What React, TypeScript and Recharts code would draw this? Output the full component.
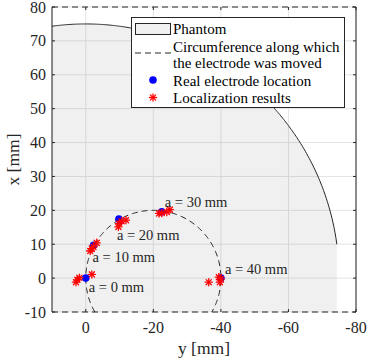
import React from 'react';
import {
  ComposedChart,
  Area,
  Scatter,
  XAxis,
  YAxis,
  CartesianGrid,
  ReferenceLine,
  Legend,
} from 'recharts';

// ---------- data ----------
const xTicks = [0, -20, -40, -60, -80];
const yTicks = [-10, 0, 10, 20, 30, 40, 50, 60, 70, 80];

const phantomRadius = 75;
const pathCenterH = -20;
const pathRadius = 20;

const electrodeLabels = ['a = 0 mm', 'a = 10 mm', 'a = 20 mm', 'a = 30 mm', 'a = 40 mm'];
const electrodeH = [0, -2.3, -9.8, -22.5, -40]; // horizontal axis: y [mm]
const electrodeV = [0, 9.7, 17.4, 19.6, 0]; // vertical axis: x [mm]

const resultH = [
  2.5, 1.9, 2.9, -1.8,
  -3.25, -2.25, -1.3, -1.8,
  -11.9, -9.85, -9.65, -10.6,
  -22.5, -24.0, -24.9, -21.7,
  -36.4, -39.7, -40.0, -39.4,
];
const resultV = [
  -0.5, 0.1, -1.2, 1.1,
  10.4, 9.2, 8.0, 8.7,
  17.1, 16.1, 15.1, 16.8,
  19.2, 19.5, 20.2, 19.1,
  -1.2, -1.2, -0.2, 0.3,
];

// ---------- layout / style ----------
const W = 367;
const H = 361;
const PLOT_LEFT = 52;
const PLOT_RIGHT = 356;
const PLOT_TOP = 7;
const PLOT_BOTTOM = 312;
const FONT = '"Liberation Serif", "Times New Roman", serif';
const INK = '#262626';
const labelOffsets = [
  [3, 14],
  [-1, 17],
  [-2, 21],
  [3, -5],
  [4, -4],
];

// ---------- derived tables ----------
const Y_MIN = yTicks[0];
const phantomData: { h: number; v: number }[] = [];
{
  const hEnd = -Math.sqrt(phantomRadius * phantomRadius - Y_MIN * Y_MIN);
  const steps = 300;
  const hStart = 10;
  for (let i = 0; i <= steps; i++) {
    const h = hStart + ((hEnd - hStart) * i) / steps;
    const v = Math.sqrt(Math.max(0, phantomRadius * phantomRadius - h * h));
    phantomData.push({ h, v });
  }
}

const pathData: { h: number; v: number }[] = [];
{
  const a0 = Math.asin(Y_MIN / pathRadius); // -30deg
  const a1 = Math.PI - a0;
  const steps = 240;
  for (let i = 0; i <= steps; i++) {
    const t = a0 + ((a1 - a0) * i) / steps;
    pathData.push({ h: pathCenterH + pathRadius * Math.cos(t), v: pathRadius * Math.sin(t) });
  }
}

const electrodeData = electrodeH.map((h, i) => ({ h, v: electrodeV[i], label: electrodeLabels[i], i }));
const resultData = resultH.map((h, i) => ({ h, v: resultV[i] }));

// ---------- shapes ----------
const Star = ({ cx, cy, s = 3.6 }: { cx: number; cy: number; s?: number }) => {
  const d = s * 0.72;
  return (
    <g stroke="#ff0000" strokeWidth={1.3} strokeLinecap="round">
      <line x1={cx - s} y1={cy} x2={cx + s} y2={cy} />
      <line x1={cx} y1={cy - s} x2={cx} y2={cy + s} />
      <line x1={cx - d} y1={cy - d} x2={cx + d} y2={cy + d} />
      <line x1={cx - d} y1={cy + d} x2={cx + d} y2={cy - d} />
    </g>
  );
};

const XTick = (props: any) => {
  const { x, payload } = props;
  return (
    <g>
      <line x1={x} x2={x} y1={PLOT_BOTTOM} y2={PLOT_BOTTOM - 3} stroke={INK} />
      <line x1={x} x2={x} y1={PLOT_TOP} y2={PLOT_TOP + 3} stroke={INK} />
      <text x={x} y={PLOT_BOTTOM + 21} textAnchor="middle" fontSize={16} fill={INK} style={{ fontFamily: FONT }}>
        {String(payload.value)}
      </text>
    </g>
  );
};

const YTick = (props: any) => {
  const { y, payload } = props;
  return (
    <g>
      <line x1={PLOT_LEFT} x2={PLOT_LEFT + 3} y1={y} y2={y} stroke={INK} />
      <line x1={PLOT_RIGHT} x2={PLOT_RIGHT - 3} y1={y} y2={y} stroke={INK} />
      <text x={PLOT_LEFT - 6} y={y + 5.5} textAnchor="end" fontSize={16} fill={INK} style={{ fontFamily: FONT }}>
        {String(payload.value)}
      </text>
    </g>
  );
};

const LegendBox = () => (
  <svg width={215} height={91} style={{ display: 'block', fontFamily: FONT }}>
    <rect x={0.5} y={0.5} width={213} height={90} fill="#ffffff" stroke={INK} />
    <rect x={4.5} y={6.5} width={35} height={11} fill="#f0f0f0" stroke={INK} />
    <text x={42} y={17} fontSize={15} fill="#000" style={{ fontFamily: FONT }}>Phantom</text>
    <line x1={4} x2={40} y1={36} y2={36} stroke={INK} strokeDasharray="6 4" />
    <text x={42} y={34.5} fontSize={15} fill="#000" style={{ fontFamily: FONT }}>Circumference along which</text>
    <text x={42} y={51} fontSize={15} fill="#000" style={{ fontFamily: FONT }}>the electrode was moved</text>
    <circle cx={22} cy={63} r={3.8} fill="#0000ff" />
    <text x={42} y={69} fontSize={15} fill="#000" style={{ fontFamily: FONT }}>Real electrode location</text>
    <Star cx={22} cy={80.5} />
    <text x={42} y={86} fontSize={15} fill="#000" style={{ fontFamily: FONT }}>Localization results</text>
  </svg>
);

export default function App() {
  return (
    <div style={{ position: 'absolute', left: 0, top: 0, width: W, height: H, background: '#fff', fontFamily: FONT }}>
      <ComposedChart
        width={W}
        height={H}
        margin={{ top: PLOT_TOP, right: W - PLOT_RIGHT, left: 0, bottom: 0 }}
      >
        <CartesianGrid stroke="#e4e4e4" strokeWidth={1} />
        <XAxis
          type="number"
          dataKey="h"
          domain={[-80, 10]}
          reversed
          allowDataOverflow
          ticks={xTicks}
          interval={0}
          height={H - PLOT_BOTTOM}
          axisLine={{ stroke: INK, strokeDasharray: '6 4' }}
          tickLine={false}
          tick={<XTick />}
          label={{
            value: 'y [mm]',
            position: 'insideBottom',
            offset: 7,
            fontSize: 17.5,
            fill: INK,
            style: { fontFamily: FONT },
          }}
        />
        <YAxis
          type="number"
          dataKey="v"
          domain={[-10, 80]}
          allowDataOverflow
          ticks={yTicks}
          interval={0}
          width={PLOT_LEFT}
          axisLine={{ stroke: INK }}
          tickLine={false}
          tick={<YTick />}
          label={{
            value: 'x [mm]',
            angle: -90,
            position: 'insideLeft',
            offset: 13,
            fontSize: 17.5,
            fill: INK,
            style: { textAnchor: 'middle', fontFamily: FONT },
          }}
        />
        <Area
          data={phantomData}
          dataKey="v"
          type="linear"
          baseValue={-10}
          fill="#000000"
          fillOpacity={0.058}
          stroke={INK}
          strokeWidth={1}
          dot={false}
          activeDot={false}
          isAnimationActive={false}
        />
        <Scatter
          data={pathData}
          dataKey="v"
          line={{ stroke: INK, strokeWidth: 1, strokeDasharray: '6 4' }}
          lineType="joint"
          shape={() => <g />}
          isAnimationActive={false}
        />
        <Scatter
          data={electrodeData}
          dataKey="v"
          shape={(p: any) => <circle cx={p.cx} cy={p.cy} r={3.8} fill="#0000ff" />}
          isAnimationActive={false}
        />
        <Scatter
          data={resultData}
          dataKey="v"
          shape={(p: any) => <Star cx={p.cx} cy={p.cy} />}
          isAnimationActive={false}
        />
        <Scatter
          data={electrodeData}
          dataKey="v"
          shape={(p: any) => {
            const off = labelOffsets[p.payload.i];
            return (
              <text x={p.cx + off[0]} y={p.cy + off[1]} fontSize={14.5} fill={INK} style={{ fontFamily: FONT }}>
                {p.payload.label}
              </text>
            );
          }}
          isAnimationActive={false}
        />
        <ReferenceLine y={80} stroke={INK} strokeDasharray="6 4" />
        <ReferenceLine x={-80} stroke={INK} />
        <Legend
          layout="vertical"
          align="center"
          verticalAlign="middle"
          content={() => <LegendBox />}
          wrapperStyle={{ left: 131, top: 17, width: 215, height: 91, margin: 0, padding: 0 }}
        />
      </ComposedChart>
    </div>
  );
}
